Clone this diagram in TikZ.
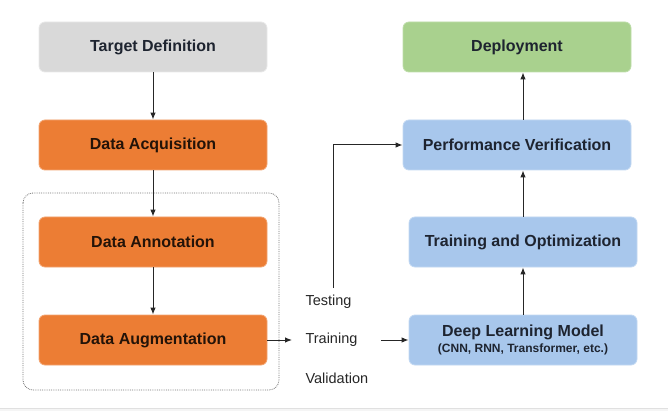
\documentclass[tikz,border=0pt]{standalone}
\usepackage{fontspec}
\setmainfont{Liberation Sans}
\usetikzlibrary{arrows, arrows.meta, shapes, positioning}

\definecolor{greyfill}{HTML}{D9D9D9}
\definecolor{orangefill}{HTML}{EC7D34}
\definecolor{greenfill}{HTML}{A9D18E}
\definecolor{bluefill}{HTML}{A8C7EC}
\definecolor{darktext}{HTML}{1E2430}

\begin{document}
\begin{tikzpicture}[x=1pt, y=-1pt, >={Latex[length=7pt, width=5.5pt]},
    stage/.style={rounded corners=6pt, minimum width=228pt, minimum height=50pt,
        line width=0.8pt, text=darktext,
        font=\fontsize{16}{18}\selectfont\bfseries},
    greystage/.style={stage, fill=greyfill, draw=greyfill!60!white},
    orangestage/.style={stage, fill=orangefill, draw=orangefill!70!white, text=black!85!orangefill},
    greenstage/.style={stage, fill=greenfill, draw=greenfill!75!white},
    bluestage/.style={stage, fill=bluefill, draw=bluefill!70!white},
    split/.style={anchor=west, text=black!85, font=\fontsize{14.5}{17}\selectfont},
    flow/.style={->, line width=1pt, draw=black!85}]
    \useasboundingbox (0,0) rectangle (668,411);
    \fill[black!4] (0,408) rectangle (668,411);
    \draw[black!12] (0,408) -- (668,408);

    % left column
    \node[greystage] (target) at (153, 47) {Target Definition};
    \node[orangestage] (acquisition) at (153, 145) {Data Acquisition};
    \node[orangestage] (annotation) at (153, 242) {Data Annotation};
    \node[orangestage] (augmentation) at (153, 340) {Data Augmentation};
    \draw[black!55, densely dotted, line width=0.8pt, rounded corners=10pt] (23, 193) rectangle (279, 390);

    % data split
    \node[split] (testing) at (302, 302) {Testing};
    \node[split] (training) at (302, 340) {Training};
    \node[split] (validation) at (302, 378) {Validation};
    \coordinate (testtop) at (333, 288);

    % right column
    \node[greenstage] (deploy) at (517, 47) {Deployment};
    \node[bluestage] (verify) at (517, 145) {Performance Verification};
    \node[bluestage] (optimize) at (523, 242) {Training and Optimization};
    \node[bluestage, align=center] (model) at (523, 340)
        {Deep Learning Model\\[-2pt]{\fontsize{12}{13}\selectfont (CNN, RNN, Transformer, etc.)}};

    \draw[flow] (target) -- (acquisition);
    \draw[flow] (acquisition) -- (annotation);
    \draw[flow] (annotation) -- (augmentation);
    \draw[flow, shorten >=10pt] (augmentation) -- (training);
    \draw[flow, shorten <=20pt] (training) -- (model);
    \draw[flow] (testtop) |- (verify.west);
    \draw[flow] (model) -- (optimize);
    \draw[flow] (optimize.north) -- (optimize.north |- verify.south);
    \draw[flow] (optimize.north |- verify.north) -- (optimize.north |- deploy.south);
\end{tikzpicture}
\end{document}
